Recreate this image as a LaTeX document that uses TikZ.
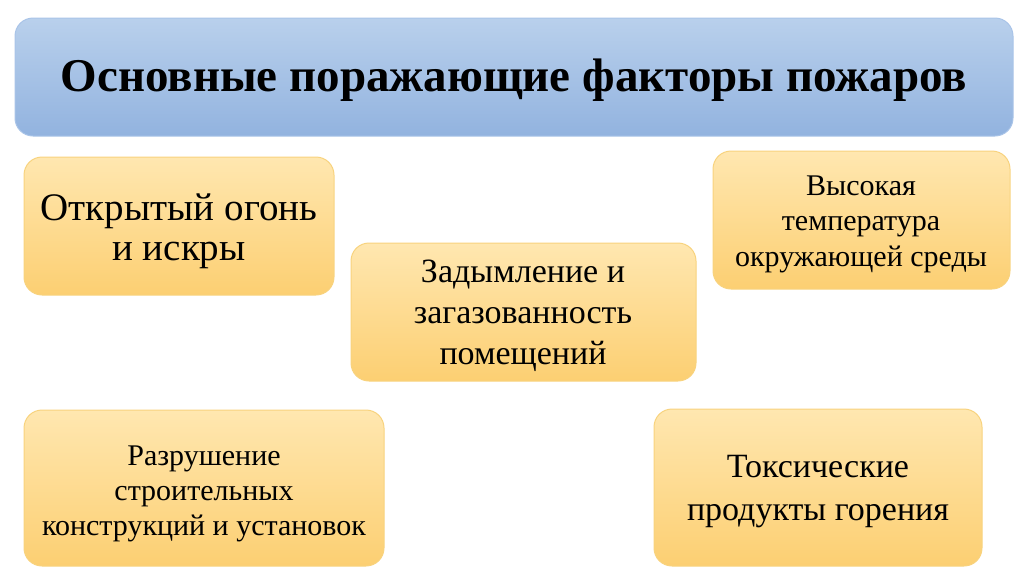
\documentclass[tikz,border=0pt]{standalone}
\usepackage{fontspec}
\setmainfont{Liberation Serif}
\definecolor{bluetop}{HTML}{B9D0EC}
\definecolor{bluebot}{HTML}{92B3DF}
\definecolor{blueline}{HTML}{A9C4E8}
\definecolor{ortop}{HTML}{FFE7B0}
\definecolor{orbot}{HTML}{FCCF72}
\definecolor{orline}{HTML}{F8D37E}
\tikzset{
  titlebox/.style={draw=blueline, line width=1pt, rounded corners=18pt, top color=bluetop, bottom color=bluebot},
  factorbox/.style={draw=orline, line width=1pt, rounded corners=18pt, top color=ortop, bottom color=orbot},
  lbl/.style={align=center, text=black, inner sep=0pt}
}
\begin{document}
\begin{tikzpicture}[x=1pt,y=-1pt]
\useasboundingbox (0,0) rectangle (1024,574);
\path[titlebox] (15,18) rectangle (1013,136);
\node[lbl, font=\fontsize{47}{56}\selectfont\bfseries] (title) at (514,80) {Основные поражающие факторы пожаров};

\path[factorbox] (24,157) rectangle (334,295);
\node[lbl, font=\fontsize{39}{40}\selectfont] (b1) at (179,231) {Открытый огонь\\и искры};

\path[factorbox] (351,243) rectangle (696,381);
\node[lbl, font=\fontsize{34}{41}\selectfont] (b2) at (523,316) {Задымление и\\загазованность\\помещений};

\path[factorbox] (713,151) rectangle (1010,289);
\node[lbl, font=\fontsize{30}{35.5}\selectfont] (b3) at (861,224) {Высокая\\температура\\окружающей среды};

\path[factorbox] (24,410) rectangle (384,566);
\node[lbl, font=\fontsize{30}{35}\selectfont] (b4) at (204,494) {Разрушение\\строительных\\конструкций и установок};

\path[factorbox] (654,409) rectangle (982,566);
\node[lbl, font=\fontsize{34}{43}\selectfont] (b5) at (818,492) {Токсические\\продукты горения};
\end{tikzpicture}
\end{document}
